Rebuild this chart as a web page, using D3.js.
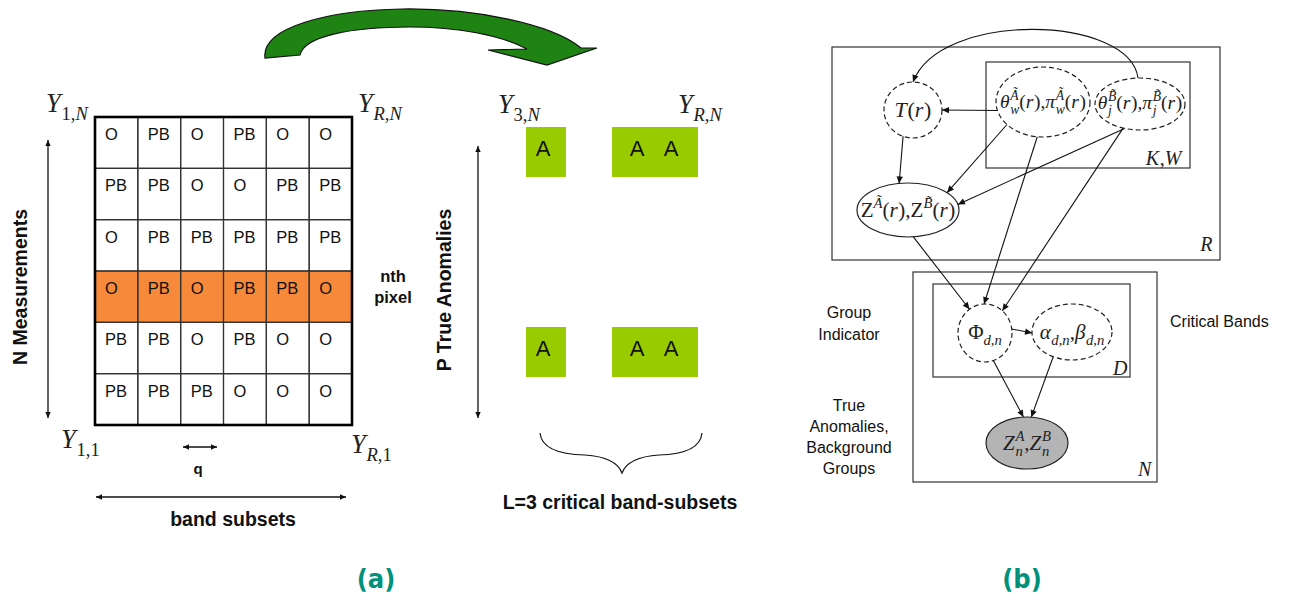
<!DOCTYPE html>
<html><head><meta charset="utf-8">
<script src="https://cdn.jsdelivr.net/npm/d3@7"></script>
<style>body{margin:0;background:#fff}svg{display:block}</style>
</head><body>
<svg id="fig" width="1290" height="601"></svg>
<script>
// ---------- data: panel (a) ----------
const bandSubsets = [0, 1, 2, 3, 4, 5];              // R band subsets (columns)
const pixels = [0, 1, 2, 3, 4, 5];                   // N measurements (rows, top = N)
const gridLabels = [
  ["O", "PB", "O", "PB", "O", "O"],
  ["PB", "PB", "O", "O", "PB", "PB"],
  ["O", "PB", "PB", "PB", "PB", "PB"],
  ["O", "PB", "O", "PB", "PB", "O"],
  ["PB", "PB", "O", "PB", "O", "O"],
  ["PB", "PB", "PB", "O", "O", "O"]
];
const nthPixelRow = 3;
const criticalSlots = [0, 1, 2, 3];                  // slots of the reduced matrix
const criticalColumns = [0, 2, 3];                   // L = 3 critical band-subsets
const anomalyRows = ["N", "1"];
const anomalyMark = "A";

// ---------- data: panel (b) ----------
const nodeIds = ["T", "thA", "thB", "Z", "Phi", "ab", "Zn"];
const dashedNodes = ["T", "thA", "thB", "Phi", "ab"];
const observedNodes = ["Zn"];
const edgeList = [
  ["thA", "T"], ["T", "Z"], ["thA", "Z"], ["thB", "Z"],
  ["Z", "Phi"], ["thA", "Phi"], ["thB", "Phi"],
  ["Phi", "ab"], ["Phi", "Zn"], ["ab", "Zn"]
];
const plateNames = ["R", "K,W", "N", "D"];
const sideNotes = [["Group", "Indicator"], ["Critical Bands"], ["True", "Anomalies,", "Background", "Groups"]];

// ---------- drawing ----------
const svg = d3.select("#fig");
const SANS = "'Liberation Sans', Arial, Helvetica, sans-serif";
const SERIF = "'Liberation Serif', 'DejaVu Serif', 'Times New Roman', serif";

const defs = svg.append("defs");
defs.append("marker").attr("id", "arr").attr("viewBox", "0 0 10 10")
  .attr("refX", 10).attr("refY", 5).attr("markerWidth", 8).attr("markerHeight", 7)
  .attr("markerUnits", "userSpaceOnUse").attr("orient", "auto-start-reverse")
  .append("path").attr("d", "M0,0.5 L10,5 L0,9.5 z").attr("fill", "#111");
defs.append("marker").attr("id", "arrS").attr("viewBox", "0 0 10 10")
  .attr("refX", 10).attr("refY", 5).attr("markerWidth", 7).attr("markerHeight", 6)
  .attr("markerUnits", "userSpaceOnUse").attr("orient", "auto-start-reverse")
  .append("path").attr("d", "M0,0.5 L10,5 L0,9.5 z").attr("fill", "#111");

// math-like label: pieces = [text, role, italic, stackOnPrevScript]
function mathLabel(parent, pieces, x, y, size, anchor) {
  const g = parent.append("g");
  let cx = 0, scriptStart = 0;
  pieces.forEach(([t, role, it, stack]) => {
    const small = role !== "b";
    const fs = small ? size * 0.7 : size;
    const dy = role === "sub" ? size * 0.3 : role === "sup" ? -size * 0.42 : 0;
    const px = stack ? scriptStart : cx;
    const node = g.append("text").attr("x", px).attr("y", dy)
      .attr("font-family", SERIF).attr("font-size", fs)
      .attr("font-style", it ? "italic" : "normal").attr("fill", "#222").text(t);
    const w = node.node().getComputedTextLength() + (it && !small ? size * 0.03 : 0);
    if (small) {
      if (stack) cx = Math.max(cx, px + w); else { scriptStart = px; cx = px + w; }
    } else cx = px + w;
  });
  const dx = anchor === "middle" ? -cx / 2 : anchor === "end" ? -cx : 0;
  g.attr("transform", `translate(${x + dx},${y})`);
  return g;
}

// ---- curved green arrow between the two halves of panel (a)
svg.append("path")
  .attr("d", "M265,58 C261,27 330,10 402,9 C475,8 552,24 581,48 L597,48 L547,65 L488,50 L527,49 C500,35 458,27 410,27 C352,27 304,36 300,55 Z")
  .attr("fill", "#1e8313").attr("stroke", "#111").attr("stroke-width", 1.2);

// ---- grid of band subsets
const x = d3.scaleBand().domain(bandSubsets).range([95, 352]);
const y = d3.scaleBand().domain(pixels).range([117, 425]);
const grid = svg.append("g");
grid.append("rect").attr("x", x.range()[0]).attr("y", y(nthPixelRow))
  .attr("width", x.range()[1] - x.range()[0]).attr("height", y.bandwidth())
  .attr("fill", "#f68a3a");
const cells = gridLabels.flatMap((row, r) => row.map((lab, c) => ({ r, c, lab })));
grid.selectAll("rect.cell").data(cells).join("rect").attr("class", "cell")
  .attr("x", d => x(d.c)).attr("y", d => y(d.r))
  .attr("width", x.bandwidth()).attr("height", y.bandwidth())
  .attr("fill", "none").attr("stroke", "#333").attr("stroke-width", 1.2);
grid.selectAll("text").data(cells).join("text")
  .attr("x", d => x(d.c) + 10).attr("y", d => y(d.r) + 23)
  .attr("font-family", SANS).attr("font-size", 16.5).attr("fill", "#111").text(d => d.lab);
grid.append("rect").attr("x", 95).attr("y", 117).attr("width", 257).attr("height", 308)
  .attr("fill", "none").attr("stroke", "#000").attr("stroke-width", 2.6);

// corner labels
const YS = 26.5;
mathLabel(svg, [["Y", "b", true], ["1,", "sub", false], ["N", "sub", true]], 46, 112, YS);
mathLabel(svg, [["Y", "b", true], ["R,N", "sub", true]], 358, 112, YS);
mathLabel(svg, [["Y", "b", true], ["1,1", "sub", false]], 61, 448, YS);
mathLabel(svg, [["Y", "b", true], ["R,", "sub", true], ["1", "sub", false]], 351, 453, YS);

// dimension arrows
const arrow = (x1, y1, x2, y2) => svg.append("line").attr("x1", x1).attr("y1", y1).attr("x2", x2).attr("y2", y2)
  .attr("stroke", "#111").attr("stroke-width", 1.3)
  .attr("marker-start", "url(#arrS)").attr("marker-end", "url(#arrS)");
arrow(48, 140, 48, 418);
arrow(183, 447, 217, 447);
arrow(96, 497, 346, 497);
arrow(478, 146, 478, 418);

const bold = (t, x0, y0, fs, rot) => svg.append("text").attr("x", x0).attr("y", y0)
  .attr("text-anchor", "middle").attr("font-family", SANS).attr("font-weight", "bold")
  .attr("font-size", fs).attr("fill", "#111")
  .attr("transform", rot ? `rotate(-90,${x0},${y0})` : null).text(t);
bold("N  Measurements", 27, 287, 19.5, true);
bold("nth", 393, 282, 16.5);
bold("pixel", 393, 303, 16.5);
bold("q", 198, 474, 15);
bold("band subsets", 233, 526, 19.5);
bold("P True Anomalies", 451, 290, 19.5, true);
bold("L=3 critical band-subsets", 620, 509, 19.5);

// ---- reduced matrix of true anomalies
const xs = d3.scaleBand().domain(criticalSlots).range([526, 698]);
const ya = d3.scalePoint().domain(anomalyRows).range([127, 327]);
const aCells = anomalyRows.flatMap(r => criticalColumns.map(c => ({ r, c })));
const markOffset = { 0: 17, 2: 25, 3: 16 };
svg.selectAll("rect.anom").data(aCells).join("rect").attr("class", "anom")
  .attr("x", d => xs(d.c)).attr("y", d => ya(d.r))
  .attr("width", d => d.c === 0 ? xs.bandwidth() - 3 : xs.bandwidth())
  .attr("height", 50).attr("fill", "#99cc00");
svg.selectAll("text.anom").data(aCells).join("text").attr("class", "anom")
  .attr("x", d => xs(d.c) + markOffset[d.c]).attr("y", d => ya(d.r) + 29)
  .attr("text-anchor", "middle").attr("font-family", SANS).attr("font-size", 22)
  .attr("fill", "#111").text(anomalyMark);
mathLabel(svg, [["Y", "b", true], ["3,", "sub", false], ["N", "sub", true]], 498, 113, YS);
mathLabel(svg, [["Y", "b", true], ["R,N", "sub", true]], 678, 113, YS);

// brace
svg.append("path")
  .attr("d", "M540,433 Q542,454 585,455 Q616,457 622,473 Q628,457 659,455 Q700,454 702,433")
  .attr("fill", "none").attr("stroke", "#111").attr("stroke-width", 1.2);

// ---------- panel (b): graphical model ----------
const layout = {
  T: { cx: 913, cy: 110, rx: 29, ry: 28 },
  thA: { cx: 1043, cy: 102, rx: 47, ry: 35 },
  thB: { cx: 1140, cy: 104, rx: 45, ry: 26 },
  Z: { cx: 908, cy: 210, rx: 51, ry: 27 },
  Phi: { cx: 985, cy: 333, rx: 27, ry: 29 },
  ab: { cx: 1072, cy: 332, rx: 40, ry: 28 },
  Zn: { cx: 1027, cy: 443, rx: 41, ry: 26 }
};
const plates = {
  "R": { x: 832, y: 47, w: 388, h: 213, lx: 1213, ly: 251 },
  "K,W": { x: 986, y: 62, w: 204, h: 106, lx: 1182, ly: 165 },
  "N": { x: 913, y: 272, w: 244, h: 210, lx: 1152, ly: 476 },
  "D": { x: 933, y: 284, w: 197, h: 93, lx: 1128, ly: 375 }
};
// boundary angles (degrees) where each edge leaves / meets its node
const anchors = {
  "thA>T": [166, 0], "T>Z": [110, -100], "thA>Z": [140, -40], "thB>Z": [110, -12],
  "Z>Phi": [84, -125], "thA>Phi": [97, -92], "thB>Phi": [112, -50],
  "Phi>ab": [-8, 178], "Phi>Zn": [72, -95], "ab>Zn": [118, -84]
};
const onEllipse = (n, deg) => {
  const a = deg * Math.PI / 180, p = layout[n];
  return [p.cx + p.rx * Math.cos(a), p.cy + p.ry * Math.sin(a)];
};

const gb = svg.append("g");
plateNames.forEach(k => {
  const p = plates[k];
  gb.append("rect").attr("x", p.x).attr("y", p.y).attr("width", p.w).attr("height", p.h)
    .attr("fill", "none").attr("stroke", "#333").attr("stroke-width", 1.2);
  const parts = k.split(",");
  const pieces = parts.length > 1 ? [[parts[0], "b", true], [",", "b", false], [parts[1], "b", true]] : [[k, "b", true]];
  mathLabel(gb, pieces, p.lx, p.ly, 20, "end");
});

gb.selectAll("ellipse").data(nodeIds).join("ellipse")
  .attr("cx", d => layout[d].cx).attr("cy", d => layout[d].cy)
  .attr("rx", d => layout[d].rx).attr("ry", d => layout[d].ry)
  .attr("fill", d => observedNodes.includes(d) ? "#b4b4b4" : "#fff")
  .attr("stroke", "#222").attr("stroke-width", 1.2)
  .attr("stroke-dasharray", d => dashedNodes.includes(d) ? "5,3" : null);

gb.selectAll("line.edge").data(edgeList).join("line").attr("class", "edge")
  .each(function ([s, t]) {
    const [a1, a2] = anchors[s + ">" + t];
    const p1 = onEllipse(s, a1), p2 = onEllipse(t, a2);
    d3.select(this).attr("x1", p1[0]).attr("y1", p1[1]).attr("x2", p2[0]).attr("y2", p2[1]);
  })
  .attr("stroke", "#111").attr("stroke-width", 1.1).attr("marker-end", "url(#arr)");

// curved edge from the background parameters to T(r)
gb.append("path").attr("d", "M1138,78 C1130,15 940,10 913,82")
  .attr("fill", "none").attr("stroke", "#111").attr("stroke-width", 1.1).attr("marker-end", "url(#arr)");

// node labels
const At = "A\u0303", Bt = "B\u0303";
const M = 21, MT = 19.5;
mathLabel(gb, [["T", "b", true], ["(", "b"], ["r", "b", true], [")", "b"]], 913, 117, 22, "middle");
mathLabel(gb, [["θ", "b", true], [At, "sup", true], ["w", "sub", true, true], ["(", "b"], ["r", "b", true], ["),", "b"],
  ["π", "b", true], [At, "sup", true], ["w", "sub", true, true], ["(", "b"], ["r", "b", true], [")", "b"]], 1043, 108, MT, "middle");
mathLabel(gb, [["θ", "b", true], [Bt, "sup", true], ["j", "sub", true, true], ["(", "b"], ["r", "b", true], ["),", "b"],
  ["π", "b", true], [Bt, "sup", true], ["j", "sub", true, true], ["(", "b"], ["r", "b", true], [")", "b"]], 1140, 109, MT, "middle");
mathLabel(gb, [["Z", "b", false], [At, "sup", true], ["(", "b"], ["r", "b", true], ["),", "b"],
  ["Z", "b", false], [Bt, "sup", true], ["(", "b"], ["r", "b", true], [")", "b"]], 908, 217, M, "middle");
mathLabel(gb, [["Φ", "b", false], ["d,n", "sub", true]], 985, 339, M, "middle");
mathLabel(gb, [["α", "b", true], ["d,n", "sub", true], [",", "b"], ["β", "b", true], ["d,n", "sub", true]], 1072, 339, M, "middle");
mathLabel(gb, [["Z", "b", true], ["A", "sup", true], ["n", "sub", true, true], [",", "b"],
  ["Z", "b", true], ["B", "sup", true], ["n", "sub", true, true]], 1027, 450, M, "middle");

// side notes
const note = (lines, x0, y0, lh, anchor) => lines.forEach((t, i) =>
  svg.append("text").attr("x", x0).attr("y", y0 + i * lh).attr("text-anchor", anchor)
    .attr("font-family", SANS).attr("font-size", 16).attr("fill", "#111").text(t));
note(sideNotes[0], 849, 318, 22, "middle");
note(sideNotes[1], 1170, 327, 22, "start");
note(sideNotes[2], 849, 411, 21, "middle");

// panel captions
["(a)", "(b)"].forEach((t, i) => svg.append("text").attr("x", [376, 1022][i]).attr("y", 588)
  .attr("text-anchor", "middle").attr("font-family", "'Liberation Sans Narrow', 'DejaVu Sans Condensed', sans-serif")
  .attr("font-stretch", "condensed").attr("font-weight", "bold").attr("font-size", 27)
  .attr("fill", "#00917a").text(t));
</script>
</body></html>
